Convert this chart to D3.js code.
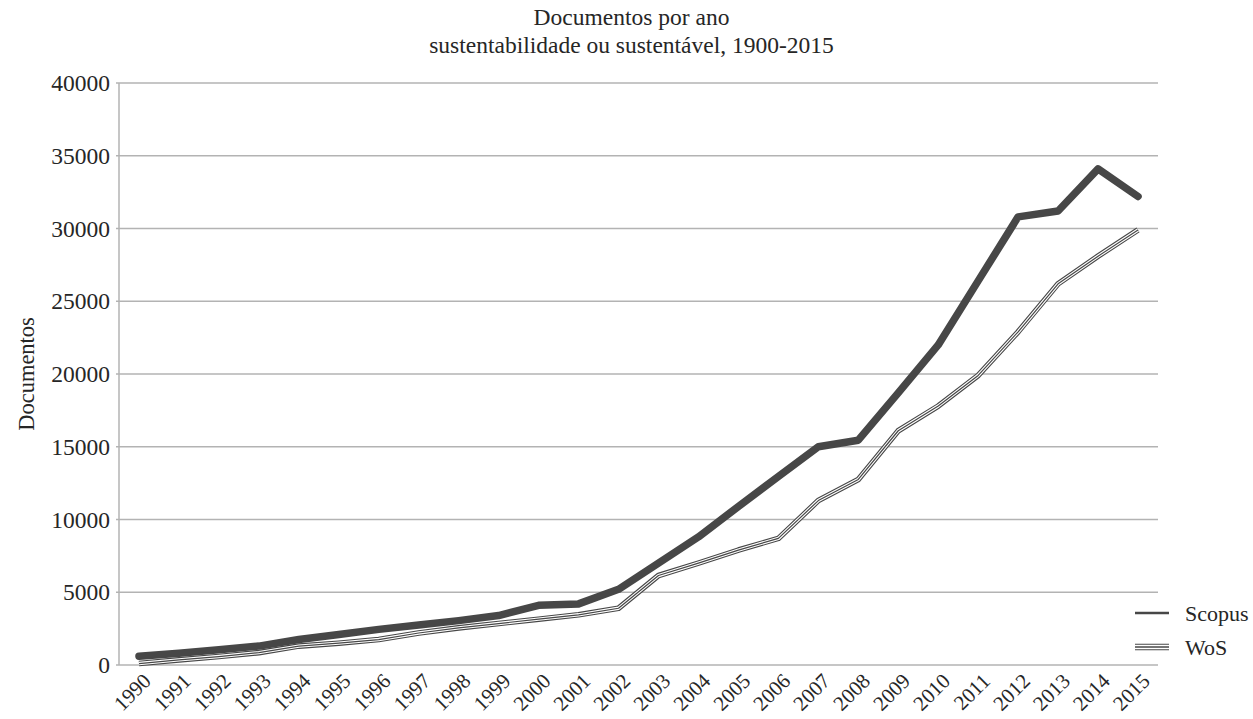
<!DOCTYPE html>
<html>
<head>
<meta charset="utf-8">
<script src="https://cdn.jsdelivr.net/npm/d3@7"></script>
<style>
  html, body { margin: 0; padding: 0; background: #fff; }
  svg text { font-family: "Liberation Serif", "Times New Roman", serif; fill: #262626; }
</style>
</head>
<body>
<svg id="chart" width="1253" height="719"></svg>
<script>
// Documents per year, 1990–2015
const years = ["1990","1991","1992","1993","1994","1995","1996","1997","1998","1999",
  "2000","2001","2002","2003","2004","2005","2006","2007","2008","2009",
  "2010","2011","2012","2013","2014","2015"];
const scopus = [600, 800, 1050, 1300, 1750, 2100, 2450, 2750, 3050, 3400,
  4100, 4200, 5200, 7000, 8800, 10900, 12950, 15000, 15450, 18700,
  22000, 26400, 30800, 31200, 34100, 32200];
const wos = [100, 350, 580, 850, 1300, 1500, 1750, 2200, 2550, 2850,
  3150, 3450, 3900, 6150, 7000, 7900, 8700, 11300, 12750, 16100,
  17800, 19900, 22900, 26200, 28100, 29900];
const yTicks = [0, 5000, 10000, 15000, 20000, 25000, 30000, 35000, 40000];
const titleLines = ["Documentos por ano", "sustentabilidade ou sustentável, 1900-2015"];
const yTitle = "Documentos";
const seriesNames = ["Scopus", "WoS"];

const svg = d3.select("#chart");
const plot = { left: 119, right: 1158, top: 83, bottom: 665 };
const lineColor = "#474747";
const gridColor = "#b3b3b3";

const x = d3.scaleBand().domain(years).range([plot.left, plot.right]);
const y = d3.scaleLinear().domain([0, 40000]).range([plot.bottom, plot.top]);
const cx = d => x(d) + x.bandwidth() / 2;

// title
svg.append("g").selectAll("text").data(titleLines).join("text")
  .attr("x", (plot.left + plot.right) / 2 - 7)
  .attr("y", (d, i) => 25 + i * 28)
  .attr("text-anchor", "middle")
  .attr("font-size", 23.5)
  .text(d => d);

// horizontal gridlines
svg.append("g").selectAll("line").data(yTicks).join("line")
  .attr("x1", plot.left - 3).attr("x2", plot.right)
  .attr("y1", d => y(d)).attr("y2", d => y(d))
  .attr("stroke", gridColor).attr("stroke-width", 1.5);

// y axis line
svg.append("line")
  .attr("x1", plot.left).attr("x2", plot.left).attr("y1", plot.top).attr("y2", plot.bottom)
  .attr("stroke", gridColor).attr("stroke-width", 1.5);

// y tick labels
svg.append("g").selectAll("text").data(yTicks).join("text")
  .attr("x", plot.left - 9).attr("y", d => y(d))
  .attr("dy", "0.35em")
  .attr("text-anchor", "end")
  .attr("font-size", 23.5)
  .text(d => d);

// y axis title
svg.append("text")
  .attr("transform", `translate(34,${(plot.top + plot.bottom) / 2}) rotate(-90)`)
  .attr("text-anchor", "middle")
  .attr("font-size", 22.5)
  .text(yTitle);

// x tick labels, rotated
svg.append("g").selectAll("text").data(years).join("text")
  .attr("transform", d => `translate(${cx(d) + 8},677) rotate(-45)`)
  .attr("dy", "0.35em")
  .attr("text-anchor", "end")
  .attr("font-size", 21)
  .text(d => d);

const line = d3.line().x((d, i) => cx(years[i])).y(d => y(d));

// WoS: triple-stripe line
const wosG = svg.append("g").attr("fill", "none")
  .attr("stroke-linejoin", "round").attr("stroke-linecap", "butt");
[[5.6, lineColor], [3.4, "#ffffff"], [1.2, lineColor]].forEach(([w, c]) => {
  wosG.append("path").attr("d", line(wos)).attr("stroke", c).attr("stroke-width", w);
});

// Scopus: thick line
svg.append("path").attr("d", line(scopus))
  .attr("fill", "none").attr("stroke", lineColor).attr("stroke-width", 7.5)
  .attr("stroke-linejoin", "round").attr("stroke-linecap", "round");

// legend
const lg = svg.append("g");
lg.append("line").attr("x1", 1135).attr("x2", 1169).attr("y1", 613).attr("y2", 613)
  .attr("stroke", lineColor).attr("stroke-width", 2.6);
[[6.5, lineColor], [4.3, "#ffffff"], [1.6, lineColor]].forEach(([w, c]) => {
  lg.append("line").attr("x1", 1135).attr("x2", 1169).attr("y1", 647).attr("y2", 647)
    .attr("stroke", c).attr("stroke-width", w);
});
lg.selectAll("text").data(seriesNames).join("text")
  .attr("x", 1185).attr("y", (d, i) => 613 + i * 34)
  .attr("dy", "0.35em")
  .attr("font-size", 22)
  .text(d => d);
</script>
</body>
</html>
